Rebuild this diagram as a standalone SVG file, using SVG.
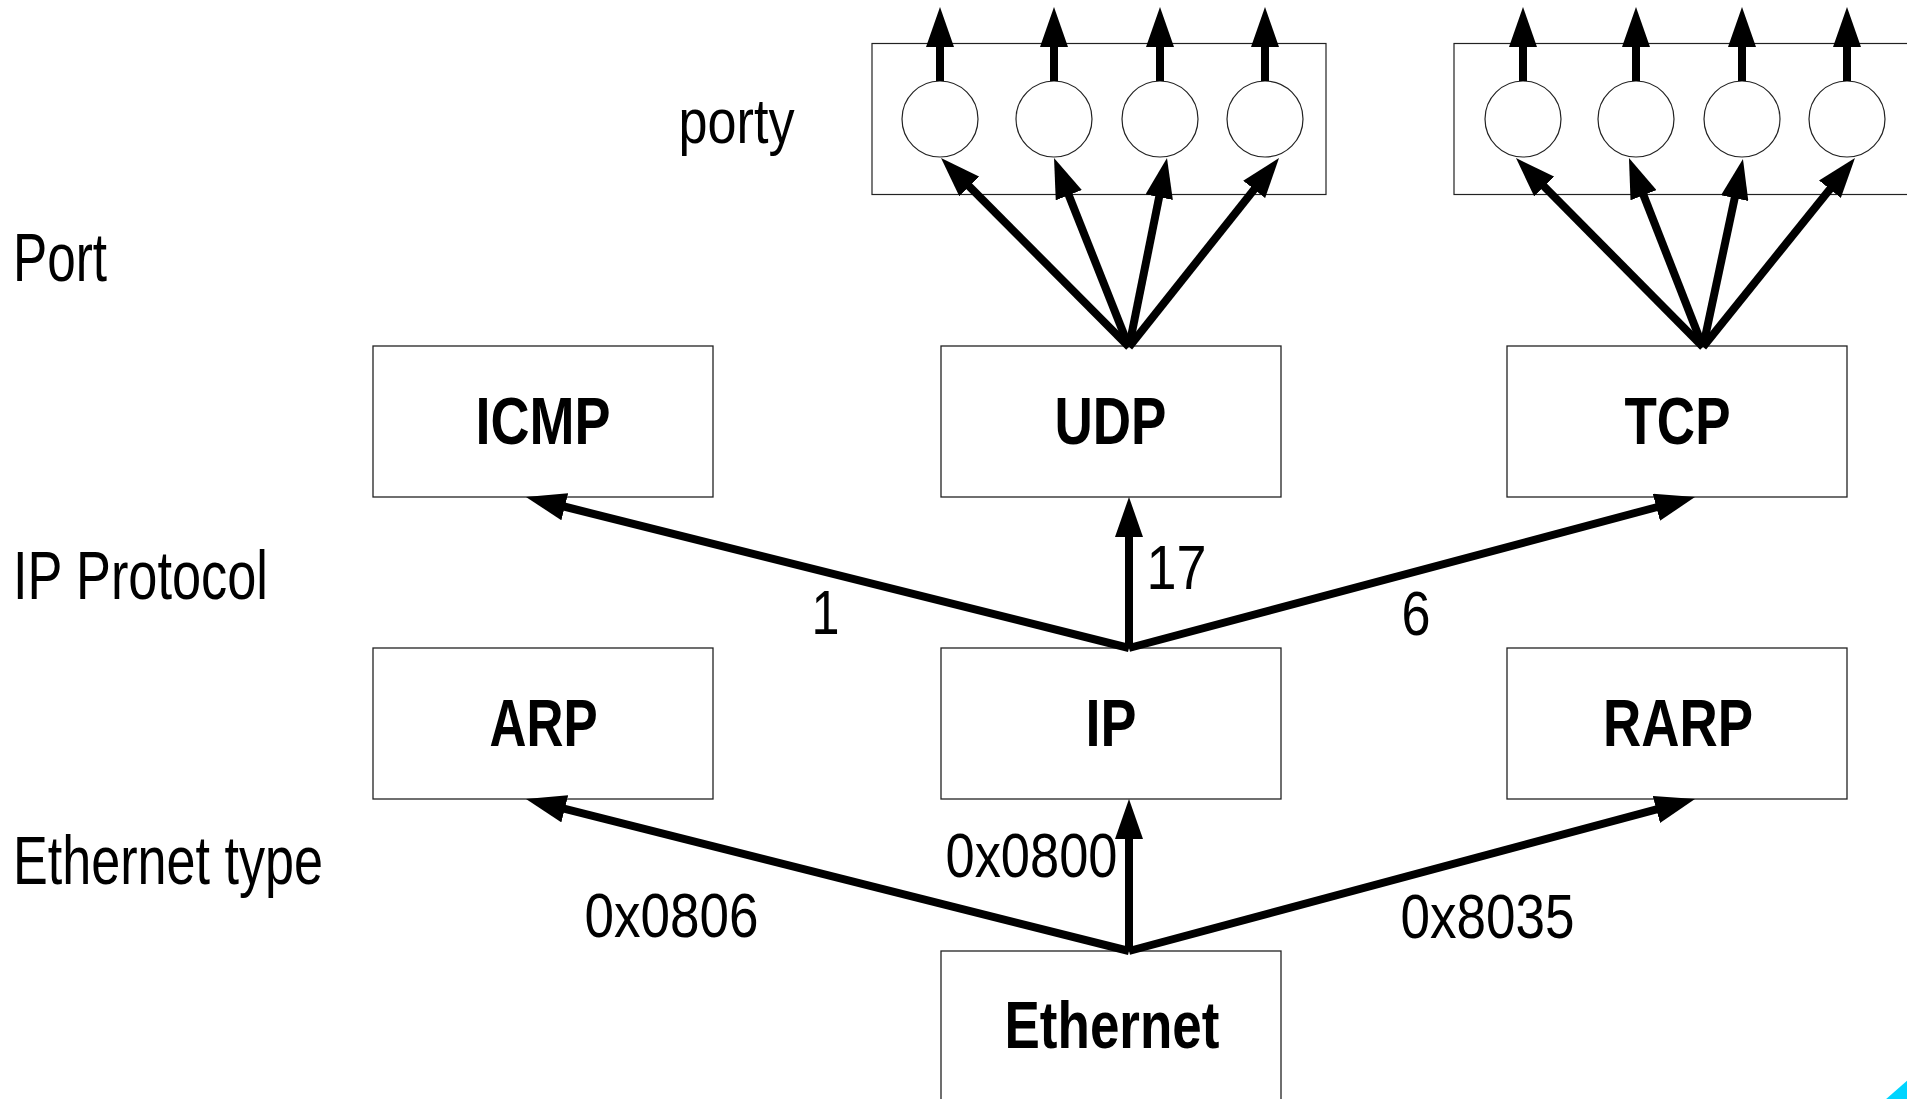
<svg xmlns="http://www.w3.org/2000/svg" width="1907" height="1099" viewBox="0 0 1907 1099">
<style>
.box{fill:#fff;stroke:#222;stroke-width:1.3}
.port{fill:#fff;stroke:#222;stroke-width:1.2}
.nt{font-family:"Liberation Sans",Arial,sans-serif;font-weight:bold;font-size:66px;fill:#000;text-anchor:middle}
.lt{font-family:"Liberation Sans",Arial,sans-serif;font-size:63px;fill:#000;text-anchor:middle}
.side{font-family:"Liberation Sans",Arial,sans-serif;font-size:68px;fill:#000}
.ar{stroke:#000;stroke-width:8;fill:none;marker-end:url(#ah)}
</style>
<defs>
<marker id="ah" markerUnits="userSpaceOnUse" viewBox="0 -14 40 28" markerWidth="40" markerHeight="28" refX="7" refY="0" orient="auto">
<path d="M0,-14 L40,0 L0,14 z" fill="#000"/>
</marker>
</defs>
<rect width="1907" height="1099" fill="#fff"/>

<g id="labels">
<text class="side" x="13" y="281" textLength="94" lengthAdjust="spacingAndGlyphs">Port</text>
<text class="side" x="13" y="599" textLength="255" lengthAdjust="spacingAndGlyphs">IP Protocol</text>
<text class="side" x="13" y="884" textLength="310" lengthAdjust="spacingAndGlyphs">Ethernet type</text>
<text class="lt" x="736.5" y="143" textLength="116" lengthAdjust="spacingAndGlyphs">porty</text>
</g>

<g id="udp-ports">
<rect class="port" x="872" y="43.5" width="454" height="151"/>
<circle class="port" cx="940" cy="119" r="38"/>
<circle class="port" cx="1054" cy="119" r="38"/>
<circle class="port" cx="1160" cy="119" r="38"/>
<circle class="port" cx="1265" cy="119" r="38"/>
</g>
<g id="tcp-ports">
<rect class="port" x="1454" y="43.5" width="454" height="151"/>
<circle class="port" cx="1523" cy="119" r="38"/>
<circle class="port" cx="1636" cy="119" r="38"/>
<circle class="port" cx="1742" cy="119" r="38"/>
<circle class="port" cx="1847" cy="119" r="38"/>
</g>

<g id="icmp"><rect class="box" x="373" y="346" width="340" height="151"/><text class="nt" x="543" y="444" textLength="135" lengthAdjust="spacingAndGlyphs">ICMP</text></g>
<g id="udp"><rect class="box" x="941" y="346" width="340" height="151"/><text class="nt" x="1110.5" y="444" textLength="112" lengthAdjust="spacingAndGlyphs">UDP</text></g>
<g id="tcp"><rect class="box" x="1507" y="346" width="340" height="151"/><text class="nt" x="1677.5" y="444" textLength="106" lengthAdjust="spacingAndGlyphs">TCP</text></g>
<g id="arp"><rect class="box" x="373" y="648" width="340" height="151"/><text class="nt" x="543.5" y="746" textLength="108" lengthAdjust="spacingAndGlyphs">ARP</text></g>
<g id="ip"><rect class="box" x="941" y="648" width="340" height="151"/><text class="nt" x="1111" y="746" textLength="51" lengthAdjust="spacingAndGlyphs">IP</text></g>
<g id="rarp"><rect class="box" x="1507" y="648" width="340" height="151"/><text class="nt" x="1678" y="746" textLength="150" lengthAdjust="spacingAndGlyphs">RARP</text></g>
<g id="ethernet"><rect class="box" x="941" y="951" width="340" height="155"/><text class="nt" x="1112" y="1048" textLength="215" lengthAdjust="spacingAndGlyphs">Ethernet</text></g>

<g id="connectors">
<line class="ar" x1="940" y1="81" x2="940" y2="40"/>
<line class="ar" x1="1054" y1="81" x2="1054" y2="40"/>
<line class="ar" x1="1160" y1="81" x2="1160" y2="40"/>
<line class="ar" x1="1265" y1="81" x2="1265" y2="40"/>
<line class="ar" x1="1523" y1="81" x2="1523" y2="40"/>
<line class="ar" x1="1636" y1="81" x2="1636" y2="40"/>
<line class="ar" x1="1742" y1="81" x2="1742" y2="40"/>
<line class="ar" x1="1847" y1="81" x2="1847" y2="40"/>

<line class="ar" x1="1129" y1="347" x2="964.3" y2="181.4"/>
<line class="ar" x1="1129" y1="347" x2="1066.2" y2="188.7"/>
<line class="ar" x1="1129" y1="347" x2="1160.5" y2="190.3"/>
<line class="ar" x1="1129" y1="347" x2="1258.5" y2="183.9"/>

<line class="ar" x1="1703" y1="347" x2="1539.2" y2="181.5"/>
<line class="ar" x1="1703" y1="347" x2="1641.0" y2="188.7"/>
<line class="ar" x1="1703" y1="347" x2="1736.1" y2="191.3"/>
<line class="ar" x1="1703" y1="347" x2="1834.3" y2="183.7"/>

<line class="ar" x1="1129" y1="648" x2="558.0" y2="505.0"/>
<line class="ar" x1="1129" y1="648" x2="1129" y2="530"/>
<line class="ar" x1="1129" y1="648" x2="1663.1" y2="505.5"/>

<line class="ar" x1="1129" y1="951" x2="558.0" y2="807.1"/>
<line class="ar" x1="1129" y1="951" x2="1129" y2="832"/>
<line class="ar" x1="1129" y1="951" x2="1663.1" y2="807.6"/>
</g>

<g id="connector-labels">
<text class="lt" x="825.5" y="634" textLength="28" lengthAdjust="spacingAndGlyphs">1</text>
<text class="lt" x="1176.5" y="589" textLength="60" lengthAdjust="spacingAndGlyphs">17</text>
<text class="lt" x="1416" y="635" textLength="29" lengthAdjust="spacingAndGlyphs">6</text>
<text class="lt" x="671.5" y="937" textLength="174" lengthAdjust="spacingAndGlyphs">0x0806</text>
<text class="lt" x="1031.5" y="877" textLength="172" lengthAdjust="spacingAndGlyphs">0x0800</text>
<text class="lt" x="1487.5" y="938" textLength="174" lengthAdjust="spacingAndGlyphs">0x8035</text>
</g>

<polygon points="1885,1100 1908,1100 1908,1080" fill="#00d4ff"/>
</svg>
